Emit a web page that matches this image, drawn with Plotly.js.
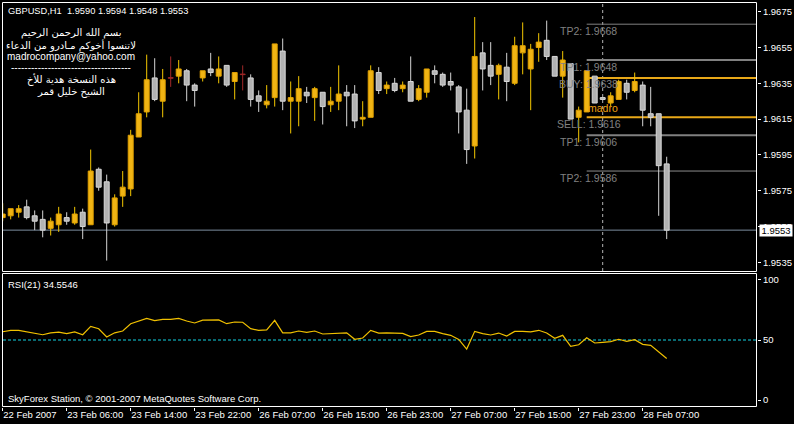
<!DOCTYPE html>
<html><head><meta charset="utf-8">
<script src="https://cdn.plot.ly/plotly-3.0.1.min.js"></script>
<style>html,body{margin:0;padding:0;background:#000;overflow:hidden}#chart{width:794px;height:424px}</style>
</head><body><div id="chart"></div>
<script>
// ---------------- DATA ----------------
const symbol = 'GBPUSD,H1';
const openP = [1.9560,1.9561,1.9563,1.9566,1.9561,1.9559,1.9554,1.9556,1.9560,1.9557,
1.9563,1.9556,1.9587,1.9580,1.9556,1.9572,1.9576,1.9605,1.9619,1.9638,
1.9625,1.9638,1.9639,1.9642,1.9634,1.9638,1.9643,1.9639,1.9645,1.9636,
1.9640,1.9638,1.9628,1.9623,1.9627,1.9653,1.9625,1.9625,1.9630,1.9627,
1.9630,1.9623,1.9625,1.9630,1.9629,1.9615,1.9616,1.9641,1.9632,1.9635,
1.9632,1.9636,1.9626,1.9630,1.9642,1.9640,1.9636,1.9633,1.9620,1.9600,
1.9652,1.9645,1.9640,1.9644,1.9635,1.9652,1.9643,1.9655,1.9659,1.9650,
1.9639,1.9646,1.9616,1.9619,1.9639,1.9627,1.9624,1.9626,1.9635,1.9631,
1.9634,1.9618,1.9618,1.9590];
const highP = [1.9568,1.9565,1.9567,1.9570,1.9564,1.9564,1.9560,1.9566,1.9563,1.9566,
1.9565,1.9598,1.9588,1.9584,1.9573,1.9586,1.9609,1.9630,1.9651,1.9649,
1.9643,1.9650,1.9648,1.9643,1.9635,1.9642,1.9652,1.9650,1.9645,1.9641,
1.9645,1.9640,1.9631,1.9634,1.9657,1.9660,1.9636,1.9639,1.9633,1.9633,
1.9630,1.9633,1.9645,1.9634,1.9634,1.9625,1.9645,1.9644,1.9636,1.9638,
1.9636,1.9650,1.9634,1.9643,1.9645,1.9641,1.9641,1.9634,1.9632,1.9672,
1.9658,1.9658,1.9646,1.9652,1.9661,1.9669,1.9657,1.9663,1.9670,1.9650,
1.9653,1.9646,1.9622,1.9642,1.9639,1.9627,1.9630,1.9637,1.9637,1.9641,
1.9636,1.9633,1.9618,1.9594];
const lowP = [1.9558,1.9559,1.9560,1.9559,1.9553,1.9549,1.9550,1.9552,1.9556,1.9556,
1.9548,1.9556,1.9575,1.9536,1.9555,1.9566,1.9572,1.9605,1.9616,1.9625,
1.9616,1.9633,1.9635,1.9625,1.9622,1.9636,1.9639,1.9635,1.9633,1.9626,
1.9631,1.9622,1.9619,1.9621,1.9622,1.9620,1.9607,1.9611,1.9624,1.9614,
1.9612,1.9619,1.9620,1.9611,1.9610,1.9611,1.9616,1.9629,1.9629,1.9630,
1.9630,1.9625,1.9625,1.9627,1.9635,1.9633,1.9631,1.9607,1.9590,1.9593,
1.9631,1.9634,1.9626,1.9625,1.9634,1.9640,1.9620,1.9647,1.9648,1.9639,
1.9627,1.9615,1.9602,1.9619,1.9624,1.9626,1.9622,1.9626,1.9626,1.9630,
1.9611,1.9611,1.9561,1.9548];
const closeP = [1.9562,1.9565,1.9565,1.9560,1.9558,1.9553,1.9558,1.9562,1.9558,1.9562,
1.9555,1.9586,1.9577,1.9557,1.9571,1.9577,1.9606,1.9618,1.9637,1.9626,
1.9637,1.9638,1.9643,1.9634,1.9631,1.9642,1.9641,1.9643,1.9634,1.9641,
1.9640,1.9626,1.9625,1.9625,1.9657,1.9625,1.9627,1.9632,1.9628,1.9632,
1.9622,1.9625,1.9629,1.9628,1.9614,1.9616,1.9642,1.9631,1.9634,1.9631,
1.9634,1.9625,1.9632,1.9643,1.9640,1.9634,1.9634,1.9619,1.9598,1.9650,
1.9643,1.9639,1.9645,1.9636,1.9656,1.9656,1.9654,1.9658,1.9650,1.9639,
1.9648,1.9615,1.9620,1.9642,1.9624,1.9626,1.9628,1.9636,1.9630,1.9636,
1.9620,1.9616,1.9589,1.9553];
const rsiValues = [56.9,58,58,56.7,55.6,54.4,56,56.5,55.3,56.7,
54.4,61.4,59.4,52.5,56,57.5,63.5,66,68,66.1,
67.2,67.2,68,65.8,64.2,66.5,66.7,66.7,63.6,65,
64.8,59.5,58,58.5,66.4,56,56,57.5,56.4,57.5,
55,55.5,56,56,50.6,51.7,58,55.8,56,55.5,
55.5,52.8,54.2,57.2,57.2,55.3,53.9,50.5,42.5,57.2,
55.3,54.2,55.8,53.3,57.2,57.2,56.8,58.1,55.8,51.5,
53.9,44.7,46,51.9,47.5,48,48.6,50.6,48.9,50.3,
46.4,45.6,39.8,34.55];
const rsiTitle = 'RSI(21) 34.5546';
const rsiLevel = 50;
const tickBars = [0,8,16,24,32,40,48,56,64,72,80];
const tickLabels = ['22 Feb 2007','23 Feb 06:00','23 Feb 14:00','23 Feb 22:00','26 Feb 07:00',
  '26 Feb 15:00','26 Feb 23:00','27 Feb 07:00','27 Feb 15:00','27 Feb 23:00','28 Feb 07:00'];
const priceTicks = [1.9535,1.9555,1.9575,1.9595,1.9615,1.9635,1.9655,1.9675];
const rsiTicks = [0,50,100];
const levelNames = ['TP2','TP1','BUY','SELL','TP1','TP2'];
const levelValues = [1.9668,1.9648,1.9638,1.9616,1.9606,1.9586];
const levelStartBar = 73;
const markerBar = 75;
const markerText = 'madro';
const markerPrice = 1.96214;
const infoLines = ['بسم الله الرحمن الرحيم','لاتنسوا أخوكم مـادرو من الدعاء','madrocompany@yahoo.com',
  '------------------------------------','هذه النسخة هدية للأخ','الشيخ خليل قمر'];
const copyright = 'SkyForex Station, © 2001-2007 MetaQuotes Software Corp.';

// ---------------- BUILD ----------------
const N = openP.length;
const idx = openP.map((_, i) => i);
const kind = idx.map(i => closeP[i] > openP[i] ? 'up' : (closeP[i] < openP[i] ? 'down' : 'doji'));
const bodyFill = {up:'#F0B414', down:'#B2B2B2', doji:'#A02828'};
const bodyEdge = {up:'#E0A000', down:'#DADADA', doji:'#A02828'};
const wickCol = {up:'#F5C800', down:'#D4D4D4', doji:'#A02828'};
const EPS = 0.00003;

const bodyBase = idx.map(i => kind[i] === 'doji' ? openP[i] - EPS/2 : Math.min(openP[i], closeP[i]));
const bodyH = idx.map(i => kind[i] === 'doji' ? EPS : Math.abs(closeP[i] - openP[i]));

const wickTraces = ['up','down','doji'].map(k => {
  const xs = [], ys = [];
  idx.forEach(i => {
    if (kind[i] !== k) return;
    const top = Math.max(openP[i], closeP[i]), bot = Math.min(openP[i], closeP[i]);
    if (highP[i] > top) { xs.push(i, i, null); ys.push(top, highP[i], null); }
    if (lowP[i] < bot) { xs.push(i, i, null); ys.push(lowP[i], bot, null); }
  });
  return {type:'scatter', mode:'lines', x:xs, y:ys, xaxis:'x', yaxis:'y',
    line:{color:wickCol[k], width:1}, hoverinfo:'skip', connectgaps:false};
});

const bodies = {type:'bar', x:idx, y:bodyH, base:bodyBase, width:0.62, xaxis:'x', yaxis:'y',
  marker:{color:idx.map(i => bodyFill[kind[i]]), line:{color:idx.map(i => bodyEdge[kind[i]]), width:1}},
  hoverinfo:'skip'};

const rsiTrace = {type:'scatter', mode:'lines', x:idx, y:rsiValues, xaxis:'x', yaxis:'y2',
  line:{color:'#F0C000', width:1.2}, hoverinfo:'skip'};

// pixel helpers for text/frames (plot area 2..757 x 2..407)
const L = 2, R = 757, T = 2, B = 407;
const px = x => (x - L) / (R - L);
const py = y => (B - y) / (B - T);
const xRange = [-0.0875, 94.2875];

const lvlColor = ['#808080','#808080','#E8A818','#E8A818','#808080','#8C8C8C'];
const lvlWidth = [1,2,2,2,2,1];

const shapes = [
  {type:'rect', xref:'paper', yref:'paper', x0:px(2.5), x1:px(756.5), y0:py(271.5), y1:py(2.5), line:{color:'#fff', width:1}},
  {type:'rect', xref:'paper', yref:'paper', x0:px(2.5), x1:px(756.5), y0:py(406.5), y1:py(273.5), line:{color:'#fff', width:1}},
  {type:'line', xref:'paper', yref:'y', x0:px(3), x1:px(756), y0:closeP[N-1], y1:closeP[N-1], line:{color:'#7C8C9E', width:1}, layer:'below'},
  {type:'line', xref:'x', yref:'paper', x0:markerBar, x1:markerBar, y0:py(271), y1:py(3), line:{color:'#B4B4B4', width:1, dash:'3px,3px'}, layer:'below'},
  {type:'line', xref:'paper', yref:'y2', x0:px(3), x1:px(756), y0:rsiLevel, y1:rsiLevel, line:{color:'#10D0E0', width:1, dash:'3px,2px'}, layer:'below'}
];
levelValues.forEach((v, i) => {
  shapes.push({type:'line', xref:'x', yref:'y', x0:levelStartBar, x1:xRange[1], y0:v, y1:v,
    line:{color:lvlColor[i], width:lvlWidth[i]}, layer:'below'});
});

const F = 'Liberation Sans, Arial, sans-serif';
const annotations = [];
annotations.push({xref:'paper', yref:'paper', x:px(6), y:py(11), xanchor:'left', yanchor:'middle', showarrow:false,
  text: symbol + '\u00a0\u00a0' + [openP[N-1], highP[N-1], lowP[N-1], closeP[N-1]].map(v => v.toFixed(4)).join(' '),
  font:{family:F, size:9.3, color:'#fff'}});
const infoY = [33.5, 45, 56.5, 67.5, 80, 91.5];
infoLines.forEach((t, i) => {
  const isLatin = /^[\x20-\x7e]+$/.test(t);
  annotations.push({xref:'paper', yref:'paper', x:px(71), y:py(infoY[i]), xanchor:'center', yanchor:'middle', showarrow:false,
    text:t, font:{family: isLatin ? F : 'DejaVu Sans, Noto Sans, sans-serif', size: isLatin ? 10 : 10, color:'#fff'}});
});
levelValues.forEach((v, i) => {
  annotations.push({xref:'x', yref:'y', x:levelStartBar, y:v, xanchor:'center', yanchor:'middle', yshift:-6.5, xshift:2,
    showarrow:false, text: levelNames[i] + ': ' + v.toFixed(4), font:{family:F, size:10.5, color:'#808080'}});
});
annotations.push({xref:'x', yref:'y', x:markerBar, y:markerPrice, xanchor:'center', yanchor:'middle', showarrow:false,
  text:markerText, font:{family:F, size:10.5, color:'#F0A010'}});
annotations.push({xref:'paper', yref:'y', x:1, y:closeP[N-1], xanchor:'left', yanchor:'middle', xshift:2, showarrow:false,
  text:closeP[N-1].toFixed(4), bgcolor:'#fff', borderpad:0, width:32, height:11, align:'center',
  font:{family:F, size:9.5, color:'#000'}});
annotations.push({xref:'paper', yref:'paper', x:px(6), y:py(284), xanchor:'left', yanchor:'middle', showarrow:false,
  text:rsiTitle, font:{family:F, size:9.5, color:'#fff'}});
annotations.push({xref:'paper', yref:'paper', x:px(6), y:py(398), xanchor:'left', yanchor:'middle', showarrow:false,
  text:copyright, font:{family:F, size:9.5, color:'#fff'}});

const axisFont = {family:F, size:9.5, color:'#fff'};
const layout = {
  width:794, height:424, paper_bgcolor:'#000', plot_bgcolor:'#000',
  margin:{l:L, r:794 - R, t:T, b:424 - B, pad:0}, showlegend:false, barmode:'overlay',
  font:{family:F, color:'#fff', size:10},
  xaxis:{range:xRange, anchor:'y2', tickmode:'array', tickvals:tickBars, ticktext:tickLabels, tickangle:0,
    ticks:'outside', ticklen:3, tickcolor:'#fff', tickwidth:1, ticklabelposition:'outside right', ticklabelstandoff:-1,
    tickfont:axisFont, showgrid:false, zeroline:false, showline:false, fixedrange:true, automargin:false},
  yaxis:{domain:[py(271.5), 1], range:[1.95299, 1.96804], side:'right', anchor:'x', tickmode:'array',
    tickvals:priceTicks, ticktext:priceTicks.map(v => v.toFixed(4)), ticks:'outside', ticklen:3, tickcolor:'#fff',
    tickfont:axisFont, showgrid:false, zeroline:false, showline:false, fixedrange:true, automargin:false},
  yaxis2:{domain:[0, py(273.5)], range:[-5.8, 105.4], side:'right', anchor:'x', tickmode:'array',
    tickvals:rsiTicks, ticktext:rsiTicks.map(String), ticks:'outside', ticklen:3, tickcolor:'#fff',
    tickfont:axisFont, showgrid:false, zeroline:false, showline:false, fixedrange:true, automargin:false},
  shapes, annotations
};

Plotly.newPlot('chart', [bodies, ...wickTraces, rsiTrace], layout, {staticPlot:true, displayModeBar:false});
</script>
</body></html>
